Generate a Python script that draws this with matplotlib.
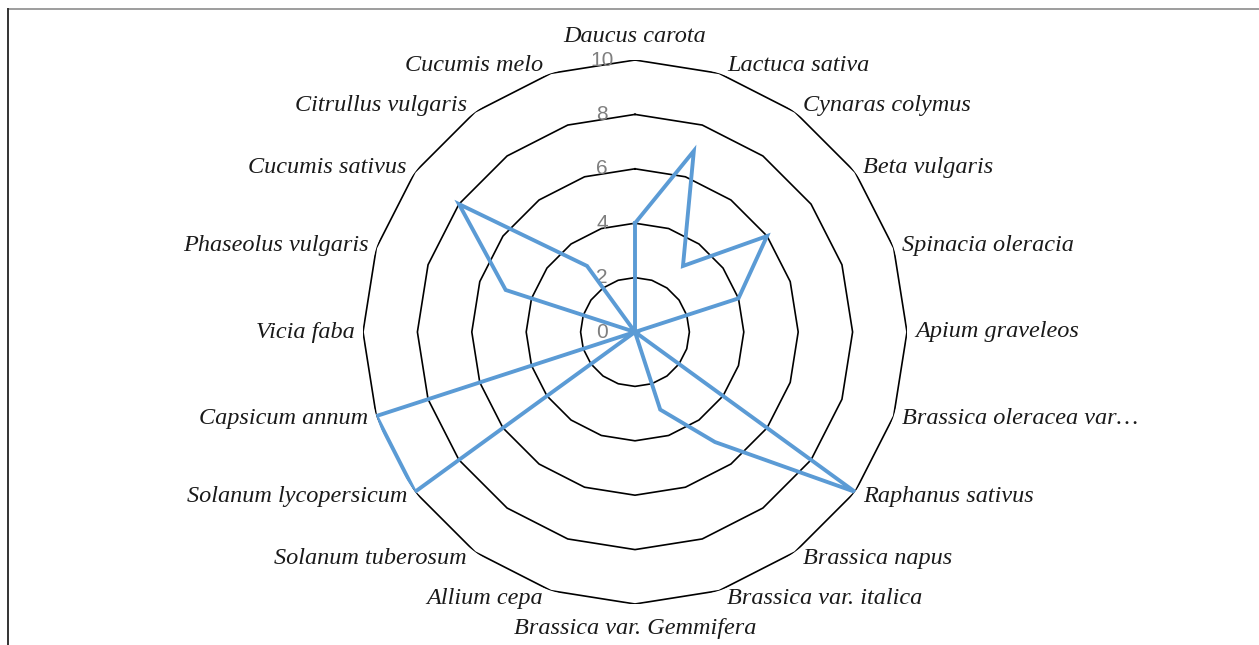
import numpy as np
import matplotlib
matplotlib.use("Agg")
import matplotlib.pyplot as plt
import matplotlib.transforms as mtransforms

categories = ["Daucus carota", "Lactuca sativa", "Cynaras colymus", "Beta vulgaris",
              "Spinacia oleracia", "Apium graveleos", "Brassica oleracea var\u2026",
              "Raphanus sativus", "Brassica napus", "Brassica var. italica",
              "Brassica var. Gemmifera", "Allium cepa", "Solanum tuberosum",
              "Solanum lycopersicum", "Capsicum annum", "Vicia faba",
              "Phaseolus vulgaris", "Cucumis sativus", "Citrullus vulgaris", "Cucumis melo"]
values = [4, 7, 3, 6, 4, 0, 0, 10, 5, 3, 0, 0, 0, 10, 10, 0, 5, 8, 3, 0]
ticks = [0, 2, 4, 6, 8, 10]

W, H = 1259, 645
fig = plt.figure(figsize=(W / 100, H / 100), dpi=100)
fig.patch.set_facecolor("white")

# frame lines (top and left)
fig.add_artist(plt.Line2D([8 / W, 1], [1 - 9 / H, 1 - 9 / H], color="#8c8c8c", lw=1.2))
fig.add_artist(plt.Line2D([8 / W, 8 / W], [0, 1 - 9 / H], color="#333333", lw=1.4))

cx, cy, R = 635, 332, 272
ax = fig.add_axes([(cx - R) / W, (H - cy - R) / H, 2 * R / W, 2 * R / H], projection="polar")
ax.set_theta_zero_location("N")
ax.set_theta_direction(-1)
ax.set_ylim(0, 10)
ax.grid(False)
ax.spines["polar"].set_visible(False)
ax.set_xticks([])
ax.set_yticks([])
ax.patch.set_alpha(0)

n = len(categories)
ang = np.arange(n) * 2 * np.pi / n
ang_c = np.append(ang, ang[0])

for t in ticks[1:]:
    ax.plot(ang_c, [t] * (n + 1), color="black", lw=1.2, zorder=1)

vals_c = np.append(values, values[0])
ax.plot(ang_c, vals_c, color="#5B9BD5", lw=2.8, zorder=3, solid_joinstyle="miter")

off = mtransforms.offset_copy(ax.transData, fig=fig, x=-33, y=0, units="dots")
for t in ticks:
    ax.text(0, t, str(t), transform=off, ha="center", va="center",
            color="#7f7f7f", fontsize=15, family="Liberation Sans", zorder=2)

for a, lab in zip(ang, categories):
    s, c = np.sin(a), np.cos(a)
    if abs(s) < 0.05:
        ha = "center"
        dx = 0
        if c > 0:
            va, dy = "bottom", 13
        else:
            va, dy = "top", -14
    else:
        ha = "left" if s > 0 else "right"
        dx = 8 if s > 0 else -8
        va, dy = "center", 8 * c
    tr = mtransforms.offset_copy(ax.transData, fig=fig, x=dx, y=dy, units="dots")
    ax.text(a, 10, lab, transform=tr, ha=ha, va=va, fontsize=17.5, style="italic",
            family="Liberation Serif", color="#1a1a1a")

fig.savefig("out.png", dpi=100)
